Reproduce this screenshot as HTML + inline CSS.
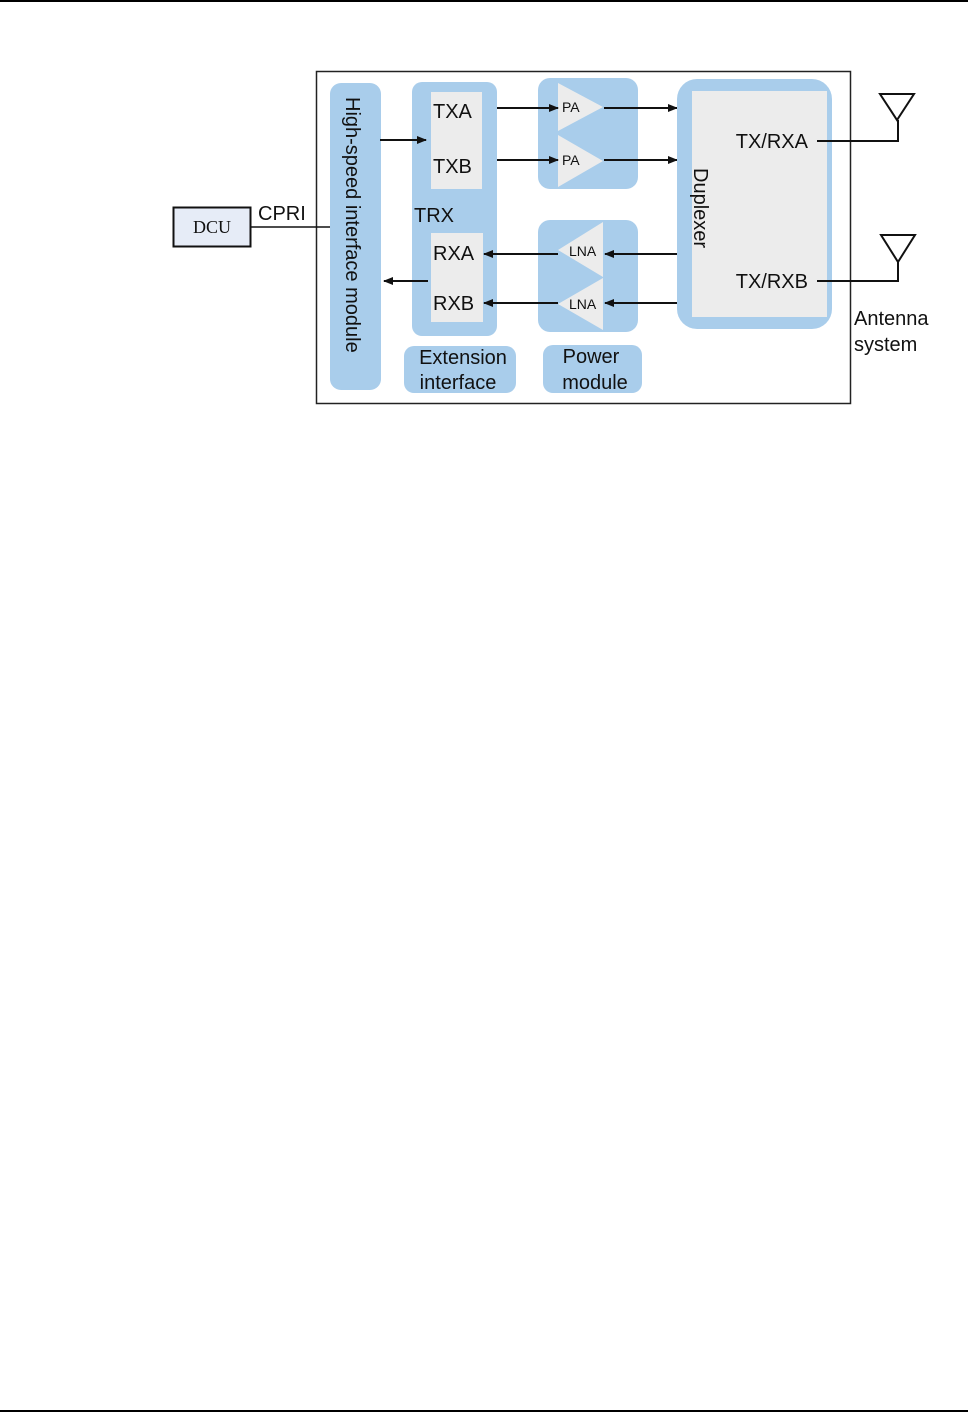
<!DOCTYPE html>
<html><head><meta charset="utf-8"><style>
html,body{margin:0;padding:0;background:#fff;}
svg{display:block;}
text{font-family:"Liberation Sans",sans-serif;fill:#111;}
</style></head><body>
<svg width="968" height="1413" viewBox="0 0 968 1413" xmlns="http://www.w3.org/2000/svg">
<defs>
<marker id="a" markerWidth="10" markerHeight="8" refX="9" refY="4" orient="auto" markerUnits="userSpaceOnUse">
<path d="M0,0 L10,4 L0,8 Z" fill="#111"/></marker>
</defs>
<line x1="0" y1="1" x2="968" y2="1" stroke="#000" stroke-width="2"/>
<line x1="0" y1="1411" x2="968" y2="1411" stroke="#000" stroke-width="2"/>

<rect x="316.5" y="71.5" width="534" height="332" fill="#fff" stroke="#222" stroke-width="1.5"/>

<!-- DCU -->
<rect x="173.5" y="207.5" width="77" height="39" fill="#e6ecf7" stroke="#111" stroke-width="2"/>
<text x="212" y="233" text-anchor="middle" font-family="Liberation Serif,serif" style="font-family:'Liberation Serif',serif" font-size="18">DCU</text>
<line x1="251" y1="227" x2="330" y2="227" stroke="#111" stroke-width="1.5"/>
<text x="258" y="220" font-size="20">CPRI</text>

<!-- high-speed -->
<rect x="330" y="83" width="51" height="307" rx="11" fill="#a9cdeb"/>
<text transform="translate(346,97) rotate(90)" font-size="20">High-speed interface module</text>

<!-- TRX -->
<rect x="412" y="82" width="85" height="254" rx="10" fill="#a9cdeb"/>
<rect x="431" y="92" width="51" height="97" fill="#ececec"/>
<rect x="431" y="233" width="52" height="89" fill="#ececec"/>
<text x="433" y="118" font-size="20">TXA</text>
<text x="433" y="173" font-size="20">TXB</text>
<text x="414" y="222" font-size="20">TRX</text>
<text x="433" y="260" font-size="20">RXA</text>
<text x="433" y="310" font-size="20">RXB</text>
<line x1="380" y1="140" x2="426" y2="140" stroke="#111" stroke-width="2" marker-end="url(#a)"/>
<line x1="428" y1="281" x2="384" y2="281" stroke="#111" stroke-width="2" marker-end="url(#a)"/>

<rect x="404" y="346" width="112" height="47" rx="10" fill="#a9cdeb"/>
<text x="463" y="364" font-size="20" text-anchor="middle">Extension</text>
<text x="458" y="389" font-size="20" text-anchor="middle">interface</text>

<!-- PA -->
<rect x="538" y="78" width="100" height="111" rx="12" fill="#a9cdeb"/>
<path d="M558,83 L603,107 L558,131 Z" fill="#ececec"/>
<path d="M558,135 L603,161 L558,187 Z" fill="#ececec"/>
<text x="562" y="112" font-size="14">PA</text>
<text x="562" y="165" font-size="14">PA</text>
<line x1="497" y1="108" x2="558" y2="108" stroke="#111" stroke-width="2" marker-end="url(#a)"/>
<line x1="497" y1="160" x2="558" y2="160" stroke="#111" stroke-width="2" marker-end="url(#a)"/>
<line x1="604" y1="108" x2="677" y2="108" stroke="#111" stroke-width="2" marker-end="url(#a)"/>
<line x1="604" y1="160" x2="677" y2="160" stroke="#111" stroke-width="2" marker-end="url(#a)"/>

<!-- LNA -->
<rect x="538" y="220" width="100" height="112" rx="12" fill="#a9cdeb"/>
<path d="M603,222 L558,250 L603,277 Z" fill="#ececec"/>
<path d="M603,278 L558,304 L603,330 Z" fill="#ececec"/>
<text x="569" y="256" font-size="14">LNA</text>
<text x="569" y="309" font-size="14">LNA</text>
<line x1="677" y1="254" x2="605" y2="254" stroke="#111" stroke-width="2" marker-end="url(#a)"/>
<line x1="677" y1="303" x2="605" y2="303" stroke="#111" stroke-width="2" marker-end="url(#a)"/>
<line x1="558" y1="254" x2="484" y2="254" stroke="#111" stroke-width="2" marker-end="url(#a)"/>
<line x1="558" y1="303" x2="484" y2="303" stroke="#111" stroke-width="2" marker-end="url(#a)"/>

<rect x="543" y="345" width="99" height="48" rx="10" fill="#a9cdeb"/>
<text x="591" y="363" font-size="20" text-anchor="middle">Power</text>
<text x="595" y="389" font-size="20" text-anchor="middle">module</text>

<!-- Duplexer -->
<rect x="677" y="79" width="155" height="250" rx="20" fill="#a9cdeb"/>
<rect x="692" y="91" width="135" height="226" fill="#ececec"/>
<text transform="translate(694,168) rotate(90)" font-size="20">Duplexer</text>
<text x="808" y="148" font-size="20" text-anchor="end">TX/RXA</text>
<text x="808" y="288" font-size="20" text-anchor="end">TX/RXB</text>

<!-- antennas -->
<path d="M817,141 H898 V120" fill="none" stroke="#111" stroke-width="2"/>
<path d="M880,94 H914 L897,120 Z" fill="none" stroke="#111" stroke-width="2"/>
<path d="M817,281 H898 V262" fill="none" stroke="#111" stroke-width="2"/>
<path d="M881,235 H915 L898,262 Z" fill="none" stroke="#111" stroke-width="2"/>
<text x="854" y="325" font-size="20">Antenna</text>
<text x="854" y="351" font-size="20">system</text>
</svg>
</body></html>
